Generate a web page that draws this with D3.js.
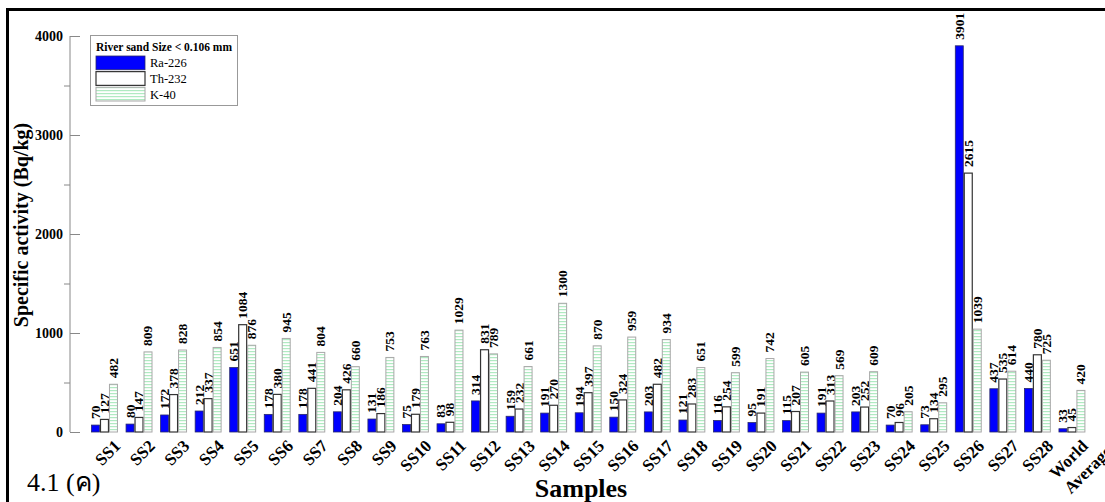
<!DOCTYPE html>
<html>
<head>
<meta charset="utf-8">
<script src="https://cdn.jsdelivr.net/npm/d3@7/dist/d3.min.js"></script>
<style>
  html, body { margin: 0; padding: 0; background: #fff; }
  svg { display: block; font-family: "Liberation Serif", "Times New Roman", serif; }
</style>
</head>
<body>
<svg id="chart" width="1105" height="502"></svg>
<script>
const categories = ["SS1","SS2","SS3","SS4","SS5","SS6","SS7","SS8","SS9","SS10","SS11","SS12","SS13","SS14","SS15","SS16","SS17","SS18","SS19","SS20","SS21","SS22","SS23","SS24","SS25","SS26","SS27","SS28","World Average"];
const seriesNames = ["Ra-226","Th-232","K-40"];
const ra226 = [70,80,172,212,651,178,178,204,131,75,83,314,159,191,194,150,203,121,116,95,115,191,203,70,73,3901,437,440,33];
const th232 = [127,147,378,337,1084,380,441,426,186,179,98,831,232,270,397,324,482,283,254,191,207,313,252,96,134,2615,535,780,45];
const k40   = [482,809,828,854,876,945,804,660,753,763,1029,789,661,1300,870,959,934,651,599,742,605,569,609,205,295,1039,614,725,420];
const yTicks = [0,1000,2000,3000,4000];
const yMinorTicks = [500,1500,2500,3500];
const legendTitle = "River sand Size < 0.106 mm";
const yTitle = "Specific activity (Bq/kg)";
const xTitle = "Samples";
const figLabel = "4.1 (ค)";

const seriesValues = [ra226, th232, k40];
const svg = d3.select("#chart");

// defs: hatch pattern for K-40
const defs = svg.append("defs");
const pat = defs.append("pattern").attr("id","hatch").attr("patternUnits","userSpaceOnUse")
  .attr("width", 6).attr("height", 3);
pat.append("rect").attr("width",6).attr("height",3).attr("fill","#ffffff");
pat.append("rect").attr("y",0).attr("width",6).attr("height",1.2).attr("fill","#b0eac2");

const styles = [
  {fill:"#0000ff", stroke:"#2a2a6a", sw:0.8},
  {fill:"#ffffff", stroke:"#333333", sw:1.2},
  {fill:"url(#hatch)", stroke:"#a8a8a8", sw:1}
];

const x = d3.scaleBand().domain(categories).range([87.2, 1089.2]).paddingInner(0.22).paddingOuter(0.11);
const xs = d3.scaleBand().domain(seriesNames).range([0, x.bandwidth()]);
const y = d3.scaleLinear().domain([0, 4000]).range([432, 36]);

// frame lines
svg.append("line").attr("x1",7).attr("x2",1105).attr("y1",9.5).attr("y2",9.5).attr("stroke","#000").attr("stroke-width",3);
svg.append("line").attr("x1",7.5).attr("x2",7.5).attr("y1",8).attr("y2",502).attr("stroke","#000").attr("stroke-width",3);

// y axis
const axisG = svg.append("g").attr("transform","translate(70,0)");
axisG.call(d3.axisLeft(y).tickValues(yTicks).tickSize(-10).tickPadding(7).tickFormat(d3.format("d")));
axisG.call(g => g.select(".domain").attr("stroke","#888").attr("d","M0,"+y(4000)+"V"+y(0)));
axisG.selectAll(".tick line").attr("stroke","#888");
axisG.selectAll(".tick text").attr("font-family","Liberation Serif").attr("font-weight","bold").attr("font-size",14).attr("fill","#000");
const minorG = svg.append("g").attr("transform","translate(70,0)");
minorG.call(d3.axisLeft(y).tickValues(yMinorTicks).tickSize(6).tickFormat(""));
minorG.select(".domain").remove();
minorG.selectAll(".tick line").attr("stroke","#888");

// bars
const groups = svg.append("g").selectAll("g").data(categories).join("g")
  .attr("transform", d => `translate(${x(d)},0)`);

seriesNames.forEach((s, si) => {
  groups.append("rect")
    .attr("x", xs(s) + 0.5)
    .attr("width", xs.bandwidth() - 1)
    .attr("y", (d,i) => y(seriesValues[si][i]))
    .attr("height", (d,i) => y(0) - y(seriesValues[si][i]))
    .attr("fill", styles[si].fill)
    .attr("stroke", styles[si].stroke)
    .attr("stroke-width", styles[si].sw);
  groups.append("text")
    .attr("transform", (d,i) => `translate(${xs(s) + xs.bandwidth()/2},${y(seriesValues[si][i]) - 6}) rotate(-90)`)
    .attr("dy","0.33em")
    .attr("text-anchor","start")
    .attr("font-weight","bold")
    .attr("font-size",13.5)
    .text((d,i) => seriesValues[si][i]);
});

// x labels
const xl = svg.append("g").selectAll("g").data(categories).join("g")
  .attr("transform", d => `translate(${x(d) + x.bandwidth()/2 + 17},447) rotate(-45)`);
xl.each(function(d) {
  const g = d3.select(this);
  const parts = d.split(" ");
  const t1 = g.append("text").attr("text-anchor","end").attr("font-weight","bold").attr("font-size",17).text(parts[0]);
  if (parts.length > 1) {
    const w = t1.node().getComputedTextLength();
    g.append("text").attr("x", -w).attr("y", 21).attr("text-anchor","start")
      .attr("font-weight","bold").attr("font-size",17).text(parts[1]);
  }
});

// titles
svg.append("text").attr("transform","translate(28,225) rotate(-90)").attr("text-anchor","middle")
  .attr("font-weight","bold").attr("font-size",20).text(yTitle);
svg.append("text").attr("x",581).attr("y",497).attr("text-anchor","middle")
  .attr("font-weight","bold").attr("font-size",26).text(xTitle);

// legend
const lg = svg.append("g");
lg.append("rect").attr("x",90.5).attr("y",35.5).attr("width",147).attr("height",70).attr("fill","#fff").attr("stroke","#999");
lg.append("text").attr("x",96).attr("y",51).attr("font-weight","bold").attr("font-size",11.5).text(legendTitle);
const ly = d3.scaleBand().domain(seriesNames).range([56, 101]).paddingInner(0.12);
seriesNames.forEach((s, si) => {
  lg.append("rect").attr("x",96).attr("y",ly(s)).attr("width",49).attr("height",ly.bandwidth())
    .attr("fill", styles[si].fill).attr("stroke", styles[si].stroke).attr("stroke-width", styles[si].sw);
  lg.append("text").attr("x",150).attr("y",ly(s) + ly.bandwidth()/2).attr("dy","0.35em")
    .attr("font-size",12.5).text(s);
});

// figure label
svg.append("text").attr("x",27).attr("y",491).attr("font-size",26)
  .attr("font-family","'Liberation Serif', 'Noto Sans', 'DejaVu Sans', serif").text(figLabel);
</script>
</body>
</html>
